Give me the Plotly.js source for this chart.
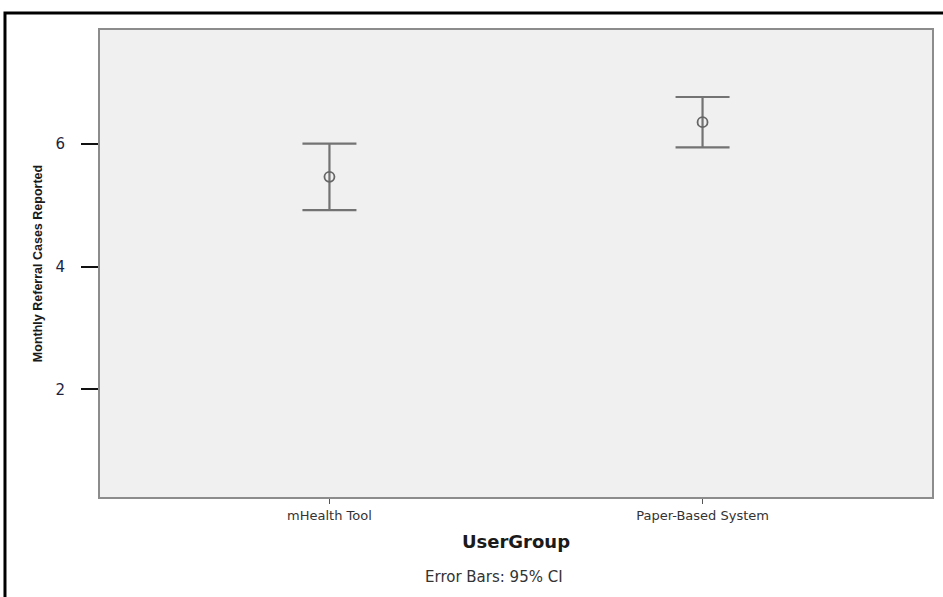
<!DOCTYPE html>
<html>
<head>
<meta charset="utf-8">
<script src="https://cdn.plot.ly/plotly-3.0.1.min.js"></script>
<style>
  html, body { margin: 0; padding: 0; background: #ffffff; }
  #chart { width: 943px; height: 597px; }
</style>
</head>
<body>
<div id="chart"></div>
<script>
// Data
const groups = ["mHealth Tool", "Paper-Based System"];
const means = [5.46, 6.35];
const ciUpper = [6.00, 6.76];
const ciLower = [4.92, 5.94];
const yTickVals = [2, 4, 6];
const yTickText = ["2", "4", "6"];

const errPlus = means.map((m, i) => ciUpper[i] - m);
const errMinus = means.map((m, i) => m - ciLower[i]);

const trace = {
  type: "scatter",
  mode: "markers",
  x: groups,
  y: means,
  marker: { symbol: "circle-open", size: 10, color: "#666666", line: { width: 1.8, color: "#666666" } },
  error_y: {
    type: "data",
    symmetric: false,
    array: errPlus,
    arrayminus: errMinus,
    color: "#737373",
    thickness: 2.2,
    width: 27
  },
  hoverinfo: "x+y",
  showlegend: false
};

const layout = {
  width: 943,
  height: 597,
  margin: { l: 100, r: 11, t: 30, b: 100, pad: 0 },
  paper_bgcolor: "#ffffff",
  plot_bgcolor: "#f0f0f0",
  font: { family: "DejaVu Sans, Liberation Sans, sans-serif", color: "#222222" },
  xaxis: {
    type: "category",
    range: [-0.615, 1.615],
    showgrid: false,
    zeroline: false,
    showline: true,
    mirror: true,
    linecolor: "#8c8c8c",
    linewidth: 2,
    ticks: "outside",
    ticklen: 5,
    tickwidth: 1.5,
    tickcolor: "#555555",
    tickfont: { family: "DejaVu Sans, sans-serif", size: 13, color: "#333333" },
    title: {
      text: "<b>UserGroup</b>",
      font: { family: "DejaVu Sans, sans-serif", size: 18, color: "#1a1a1a" },
      standoff: 14
    }
  },
  yaxis: {
    range: [0.25, 7.85],
    tickvals: yTickVals,
    ticktext: yTickText,
    showgrid: false,
    zeroline: false,
    showline: true,
    mirror: true,
    linecolor: "#8c8c8c",
    linewidth: 2,
    ticks: "outside",
    ticklen: 17,
    tickwidth: 2,
    tickcolor: "#111111",
    ticklabelstandoff: 13,
    tickfont: { family: "DejaVu Sans, sans-serif", size: 15, color: "#1c2340" },
    title: {
      text: "<b>Monthly Referral Cases Reported</b>",
      font: { family: "Liberation Sans, Arial, sans-serif", size: 12.5, color: "#1a1a1a" },
      standoff: 10
    }
  },
  annotations: [
    {
      text: "Error Bars: 95% CI",
      xref: "paper", yref: "paper",
      x: 0.474, y: -0.171,
      xanchor: "center", yanchor: "middle",
      showarrow: false,
      font: { family: "DejaVu Sans, sans-serif", size: 15, color: "#333333" }
    }
  ],
  shapes: [
    {
      type: "rect",
      xref: "paper", yref: "paper",
      x0: -0.1142, x1: 1.2, y0: -0.4, y1: 1.0364,
      line: { color: "#000000", width: 3 },
      fillcolor: "rgba(0,0,0,0)",
      layer: "above"
    }
  ]
};

Plotly.newPlot("chart", [trace], layout, { displayModeBar: false, staticPlot: true });
</script>
</body>
</html>
